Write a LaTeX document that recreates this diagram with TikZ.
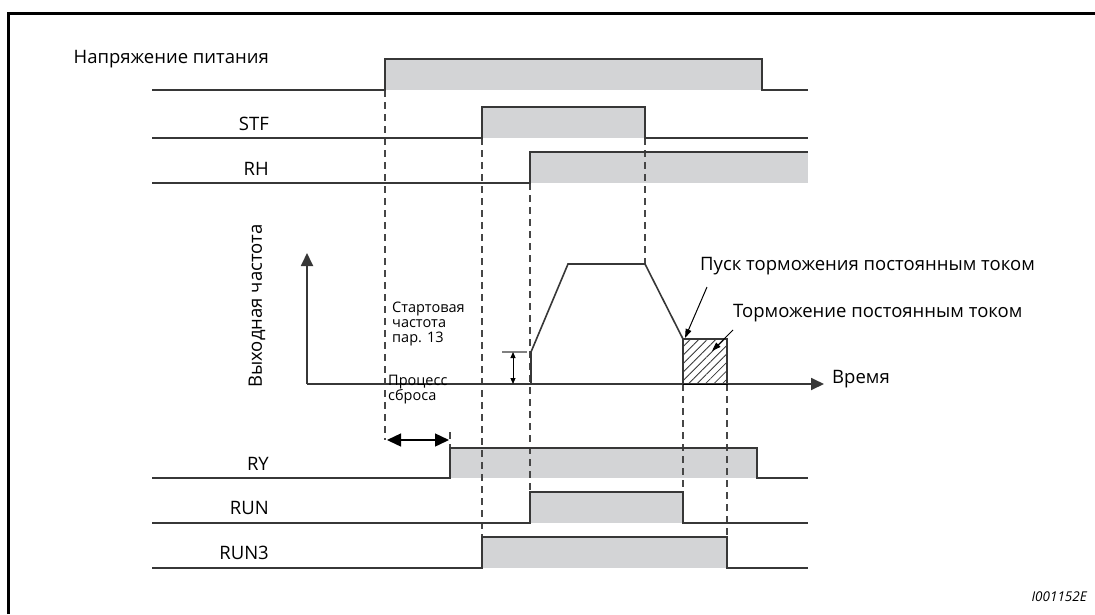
\documentclass[tikz,border=0pt]{standalone}
\usepackage{fontspec}
\setmainfont{Open Sans}
\usetikzlibrary{arrows.meta,patterns.meta}

\definecolor{sig}{RGB}{55,55,55}
\definecolor{sigfill}{RGB}{211,212,214}
\definecolor{dash}{RGB}{70,70,70}

\begin{document}
\begin{tikzpicture}[x=1pt,y=-1pt,
    signal/.style={draw=sig, line width=1.8pt, line join=miter},
    hold/.style={fill=sigfill, draw=none},
    guide/.style={draw=dash, line width=1.1pt, dash pattern=on 7pt off 5pt},
    lbl/.style={anchor=east, font=\fontsize{18.5}{20}\selectfont, inner sep=0pt},
    note/.style={anchor=west, align=left, font=\fontsize{14.5}{15}\selectfont, inner sep=0pt},
    axis/.style={draw=sig, line width=1.8pt}]
    \useasboundingbox (0,0) rectangle (1095,614);

    % Frame
    \draw[line width=3pt] (8,614) -- (8,13) -- (1095,13);

    % Signal names
    \node[lbl] (power) at (269,59) {Напряжение питания};
    \node[lbl] (stf)   at (269,124) {STF};
    \node[lbl] (rh)    at (269,169) {RH};
    \node[lbl] (ry)    at (269,464) {RY};
    \node[lbl] (run)   at (269,508) {RUN};
    \node[lbl] (run3)  at (269,553) {RUN3};

    % Grey pulses
    \fill[hold] (385,59) rectangle (762,90);
    \fill[hold] (482,107) rectangle (645,138);
    \fill[hold] (530,152) rectangle (808,183);
    \fill[hold] (450,448) rectangle (757,478);
    \fill[hold] (530,492) rectangle (683,523);
    \fill[hold] (482,537) rectangle (727,568);

    % Guide lines
    \draw[guide] (385,90) -- (385,440);
    \draw[guide] (450,432) -- (450,448);
    \draw[guide] (482,138) -- (482,537);
    \draw[guide] (530,183) -- (530,492);
    \draw[guide] (645,138) -- (645,264);
    \draw[guide] (683,384) -- (683,492);
    \draw[guide] (727,384) -- (727,537);

    % Signal edges
    \draw[signal] (152,90) -- (385,90) -- (385,59) -- (762,59) -- (762,90) -- (808,90);
    \draw[signal] (152,138) -- (482,138) -- (482,107) -- (645,107) -- (645,138) -- (808,138);
    \draw[signal] (152,183) -- (530,183) -- (530,152) -- (808,152);
    \draw[signal] (152,478) -- (450,478) -- (450,448) -- (757,448) -- (757,478) -- (808,478);
    \draw[signal] (152,523) -- (530,523) -- (530,492) -- (683,492) -- (683,523) -- (808,523);
    \draw[signal] (152,568) -- (482,568) -- (482,537) -- (727,537) -- (727,568) -- (808,568);

    % Output frequency
    \coordinate (origin) at (307,384);
    \coordinate (tend) at (824,384);
    \node[lbl, anchor=center, rotate=90] (fout) at (257,306) {Выходная частота};
    \node[lbl, anchor=west] (time) at (832,379) {Время};
    \draw[axis, -{Triangle[length=13pt,width=12pt]}] (origin) -- (307,253);
    \draw[axis, -{Triangle[length=13pt,width=12pt]}] (origin) -- (tend);
    \draw[pattern={Lines[angle=45,distance=6pt,line width=0.8pt]}, pattern color=sig]
        (683,339) rectangle (727,384);
    \draw[signal, line width=1.5pt] (683,384) -- (683,339) -- (727,339) -- (727,384);
    \draw[signal, line width=1.6pt] (531,384) -- (531,352) -- (568,264) -- (645,264) -- (683,339);

    % Starting frequency
    \coordinate (fs) at (513,352);
    \draw[draw=gray, line width=1.4pt] (502,352) -- (527,352);
    \draw[line width=1pt, {Triangle[length=6pt,width=5pt]}-{Triangle[length=6pt,width=5pt]}] (fs) -- (fs |- origin);
    \node[note, anchor=base west] (start) at (392,342) {Стартовая\\частота\\пар. 13};
    \node[note, anchor=base west] (reset) at (388,400) {Процесс\\сброса};
    \coordinate (r1) at (387,440);
    \coordinate (r2) at (449,440);
    \draw[line width=1.4pt, {Triangle[length=14pt,width=13pt]}-{Triangle[length=14pt,width=13pt]}] (r1) -- (r2);

    % DC injection brake
    \node[lbl, anchor=west] (dcstart) at (700,266) {Пуск торможения постоянным током};
    \node[lbl, anchor=west] (dcbrake) at (733,313) {Торможение постоянным током};
    \coordinate (a1) at (707,287);
    \coordinate (a2) at (733,330);
    \draw[line width=1pt, -{Triangle[length=9pt,width=6pt]}] (a1) -- (685,338);
    \draw[line width=1pt, -{Triangle[length=9pt,width=6pt]}] (a2) -- (712,351);

    % Figure number
    \node[anchor=east, font=\fontsize{13.5}{14}\selectfont\itshape, inner sep=0pt] (fig) at (1087,597) {I001152E};
\end{tikzpicture}
\end{document}
